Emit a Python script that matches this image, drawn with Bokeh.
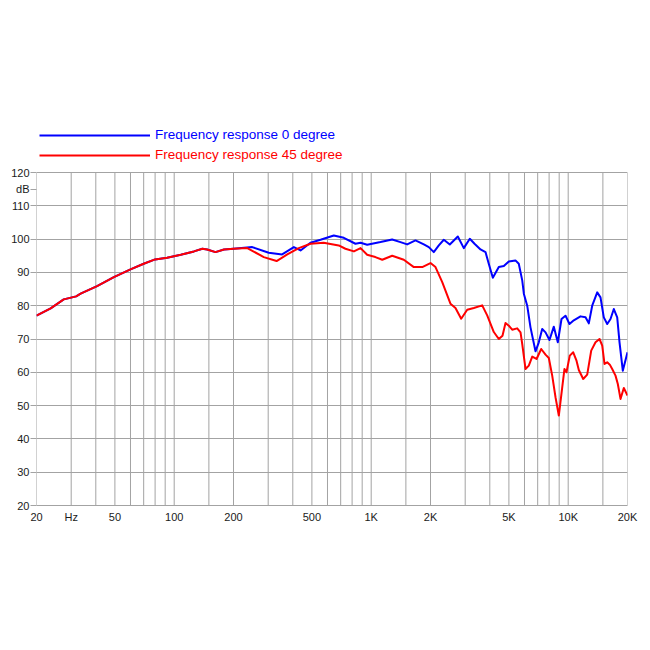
from bokeh.plotting import figure
from bokeh.models import Range1d, FixedTicker, Legend, LegendItem
from bokeh.embed import file_html
from bokeh.resources import INLINE

# ---- data ----
freq_0 = [20, 23.6, 27.5, 31.8, 33.5, 40.6, 49.4, 60, 70, 80, 92, 108, 126, 139, 147, 162, 179,
          200, 249, 302, 353, 405, 438, 492, 553, 646, 726, 832, 883, 954, 1115, 1278, 1408,
          1523, 1678, 1850, 1961, 2078, 2204, 2337, 2506, 2752, 2952, 3166, 3346, 3588, 3804,
          3952, 4144, 4444, 4712, 4994, 5398, 5612, 5844, 5954, 6194, 6436, 6824, 7093, 7380,
          7672, 8036, 8452, 8856, 9247, 9690, 10152, 10676, 11546, 12243, 12724, 13240, 14040,
          14588, 15160, 15778, 16398, 17044, 17734, 18218, 18930, 20000]
spl_0 = [77.0, 79.2, 81.9, 82.8, 83.6, 85.9, 88.6, 90.9, 92.6, 93.9, 94.4, 95.3, 96.3, 97.1, 96.9,
         96.1, 96.9, 97.1, 97.6, 95.9, 95.4, 97.6, 96.6, 98.9, 99.8, 101.1, 100.4, 98.6, 98.9,
         98.3, 99.1, 99.9, 99.1, 98.4, 99.6, 98.4, 97.6, 96.1, 98.1, 99.8, 98.4, 100.8, 97.3,
         100.1, 98.6, 96.9, 96.1, 92.6, 88.4, 91.6, 91.9, 93.3, 93.6, 92.6, 87.6, 83.6, 80.0,
         73.5, 66.3, 69.0, 73.0, 72.0, 69.7, 73.7, 69.0, 76.0, 77.0, 74.5, 75.6, 76.8, 76.5,
         74.7, 80.0, 84.0, 82.5, 76.5, 74.5, 76.0, 79.0, 76.5, 69.0, 60.5, 66.0]

freq_45 = [20, 23.6, 27.5, 31.8, 33.5, 40.6, 49.4, 60, 70, 80, 92, 108, 126, 139, 147, 162, 179,
           200, 235, 285, 331, 375, 429, 492, 574, 684, 740, 817, 883, 954, 1050, 1138, 1278,
           1464, 1646, 1816, 2000, 2120, 2294, 2525, 2678, 2863, 3072, 3318, 3660, 3880, 4192,
           4444, 4640, 4806, 4994, 5196, 5510, 5728, 5844, 6072, 6310, 6568, 6906, 7295, 7672,
           7974, 8296, 8622, 8962, 9326, 9574, 9802, 10188, 10604, 11020, 11320, 11918, 12488,
           13086, 13762, 14422, 14884, 15288, 15778, 16266, 16726, 17384, 17860, 18432, 19156,
           20000]
spl_45 = [77.0, 79.2, 81.9, 82.8, 83.6, 85.9, 88.6, 90.9, 92.6, 93.9, 94.4, 95.3, 96.3, 97.1, 96.9,
          96.1, 96.9, 97.1, 97.3, 94.6, 93.4, 95.4, 97.3, 98.6, 98.9, 98.1, 97.1, 96.3, 97.3,
          95.3, 94.6, 93.8, 95.0, 93.8, 91.6, 91.6, 92.8, 91.6, 87.1, 80.6, 79.3, 76.1, 78.8,
          79.3, 80.1, 77.1, 72.1, 70.0, 71.0, 74.8, 74.0, 72.8, 73.2, 72.0, 68.5, 61.0, 62.0,
          64.7, 64.0, 67.0, 65.3, 64.3, 59.0, 52.5, 47.0, 55.5, 61.0, 60.0, 65.0, 66.0, 63.5,
          60.7, 58.0, 59.3, 66.5, 69.0, 70.0, 68.0, 62.5, 63.0, 62.3, 61.0, 59.0, 56.5, 52.0,
          55.3, 53.0]

series_names = ["Frequency response 0 degree", "Frequency response 45 degree"]
series_colors = ["#0000ff", "#ff0000"]

x_label_ticks = [20, 30, 50, 100, 200, 500, 1000, 2000, 5000, 10000, 20000]
x_label_text = ["20", "Hz", "50", "100", "200", "500", "1K", "2K", "5K", "10K", "20K"]
x_grid_ticks = [20, 30, 40, 50, 60, 70, 80, 90, 100, 150, 200, 300, 400, 500, 600, 700, 800, 900,
                1000, 1500, 2000, 3000, 4000, 5000, 6000, 7000, 8000, 9000, 10000, 15000, 20000]
y_ticks = [20, 30, 40, 50, 60, 70, 80, 90, 100, 110, 120]
y_unit_pos = 115
y_unit = "dB"
y_min, y_max = 20, 120

FONT = "Liberation Sans"
GRID = "#a3a3a3"

# the frame is extended upwards so that the legend rows (which sit above the
# 120 dB line) are inside the drawable area; 333 px correspond to 100 dB
PX_PER_UNIT = 333 / (y_max - y_min)
FRAME_H = 383
y_top = y_min + FRAME_H / PX_PER_UNIT

p = figure(x_axis_type="log", x_range=Range1d(20, 20000), y_range=Range1d(y_min, y_top),
           frame_width=591, frame_height=FRAME_H,
           min_border_left=36, min_border_right=15, min_border_top=122, min_border_bottom=130,
           output_backend="svg", toolbar_location=None)
p.background_fill_color = "white"
p.border_fill_color = "white"
p.outline_line_color = None

# axes
p.xaxis.ticker = FixedTicker(ticks=x_label_ticks)
p.xaxis.major_label_overrides = {t: s for t, s in zip(x_label_ticks, x_label_text)}
p.xaxis.major_tick_out = 0
p.xaxis.major_tick_in = 0
p.xaxis.minor_tick_line_color = None
p.xaxis.major_label_standoff = 5
p.xaxis.axis_line_color = GRID

p.yaxis.ticker = FixedTicker(ticks=y_ticks + [y_unit_pos])
p.yaxis.major_label_overrides = {y_unit_pos: y_unit}
p.yaxis.major_tick_out = 6
p.yaxis.major_tick_in = 0
p.yaxis.major_tick_line_color = GRID
p.yaxis.minor_tick_line_color = None
p.yaxis.major_label_standoff = 1
p.yaxis.axis_line_color = None

for ax in (p.xaxis, p.yaxis):
    ax.major_label_text_font = FONT
    ax.major_label_text_font_size = "11px"
    ax.major_label_text_color = "#1a1a1a"

# grids: horizontal via the grid, vertical lines limited to the 20..120 dB box
p.xgrid.grid_line_color = None
p.ygrid.ticker = FixedTicker(ticks=y_ticks)
p.ygrid.grid_line_color = GRID
p.ygrid.grid_line_width = 1
p.segment(x0=x_grid_ticks, y0=[y_min] * len(x_grid_ticks),
          x1=x_grid_ticks, y1=[y_max] * len(x_grid_ticks),
          line_color=GRID, line_width=1, level="underlay")

# curves
r0 = p.line(freq_0, spl_0, line_color=series_colors[0], line_width=2, line_join="round")
r1 = p.line(freq_45, spl_45, line_color=series_colors[1], line_width=2, line_join="round")

# legends, one per series so each label gets its own colour
for r, name, col, ypos in [(r0, series_names[0], series_colors[0], 363),
                           (r1, series_names[1], series_colors[1], 343)]:
    leg = Legend(items=[LegendItem(label=name, renderers=[r])], location=(3, ypos),
                 glyph_width=111, glyph_height=14, label_height=14, label_standoff=5,
                 padding=0, margin=0, spacing=0,
                 border_line_color=None, background_fill_alpha=0,
                 label_text_color=col, label_text_font=FONT, label_text_font_size="13.5px",
                 label_text_baseline="middle")
    p.add_layout(leg)

open("out.html", "w").write(file_html(p, INLINE))
